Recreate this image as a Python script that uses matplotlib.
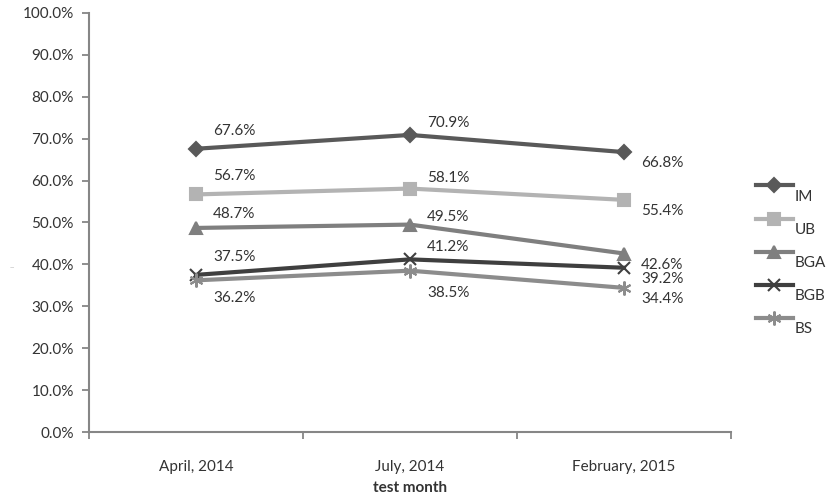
import numpy as np
import matplotlib
matplotlib.use("Agg")
import matplotlib.pyplot as plt
import matplotlib.transforms as mtransforms

plt.rcParams["font.family"] = ["Lato", "DejaVu Sans"]

# Data
months = ["April, 2014", "July, 2014", "February, 2015"]
series_names = ["IM", "UB", "BGA", "BGB", "BS"]
im_vals = [67.6, 70.9, 66.8]
ub_vals = [56.7, 58.1, 55.4]
bga_vals = [48.7, 49.5, 42.6]
bgb_vals = [37.5, 41.2, 39.2]
bs_vals = [36.2, 38.5, 34.4]
all_vals = [im_vals, ub_vals, bga_vals, bgb_vals, bs_vals]

# Styles
colors = ["#595959", "#b3b3b3", "#7f7f7f", "#3f3f3f", "#8c8c8c"]
markers = ["D", "s", "^", "x", (6, 2, 0)]
msizes = [7, 8, 8.5, 9, 10]
# vertical label offsets in pixels for each point of each series
label_dy = [
    [18, 12, -11],
    [18, 11, -11],
    [14, 8, -11],
    [18, 12, -11],
    [-18, -22, -11],
]

fig = plt.figure(figsize=(8.28, 4.99), dpi=100)
ax = fig.add_axes([89 / 828, 1 - 432 / 499, (731 - 89) / 828, (432 - 13) / 499])

x = np.arange(len(months))
txt_color = "#333333"
for name, vals, c, m, ms, dys in zip(series_names, all_vals, colors, markers, msizes, label_dy):
    ax.plot(x, vals, color=c, lw=3, marker=m, markersize=ms, markeredgewidth=1.5,
            markerfacecolor=c, markeredgecolor=c, label=name, clip_on=False)
    for xi, v, dy in zip(x, vals, dys):
        ax.annotate(f"{v:.1f}%", (xi, v), xytext=(17, dy), textcoords="offset pixels",
                    ha="left", va="center", fontsize=11, color=txt_color)

ax.set_xlim(-0.5, 2.5)
ax.set_ylim(0, 100)
ax.set_yticks(np.arange(0, 101, 10))
ax.set_yticklabels([f"{t:.1f}%" for t in np.arange(0, 101, 10)])
ax.set_xticks([-0.5, 0.5, 1.5, 2.5])
ax.set_xticklabels([])
ax.set_xticks(x, minor=True)
ax.set_xticklabels(months, minor=True)
ax.tick_params(axis="x", which="minor", length=0, pad=20, labelsize=11, labelcolor=txt_color)
ax.tick_params(axis="x", which="major", length=5, width=1.3, color="#868686")
ax.tick_params(axis="y", length=5, width=1.3, color="#868686", pad=6,
               labelsize=11, labelcolor=txt_color)

for s in ["top", "right"]:
    ax.spines[s].set_visible(False)
for s in ["left", "bottom"]:
    ax.spines[s].set_color("#868686")
    ax.spines[s].set_linewidth(1.5)

ax.set_xlabel("test month", fontsize=11, fontweight="bold", color=txt_color, labelpad=5)
fig.text(12 / 828, 1 - 268 / 499, "—", fontsize=4, color="#999999", ha="center", va="center")

leg = ax.legend(loc="center left", bbox_to_anchor=(756 / 828, 1 - 253 / 499),
                bbox_transform=fig.transFigure, frameon=False, fontsize=11,
                handlelength=2.4, handletextpad=0.15, labelspacing=1.25,
                borderpad=0, borderaxespad=0, markerscale=1.0)
for t in leg.get_texts():
    t.set_color(txt_color)
    t.set_transform(t.get_transform() + mtransforms.ScaledTranslation(0, -0.1, fig.dpi_scale_trans))

fig.savefig("out.png", dpi=100)
